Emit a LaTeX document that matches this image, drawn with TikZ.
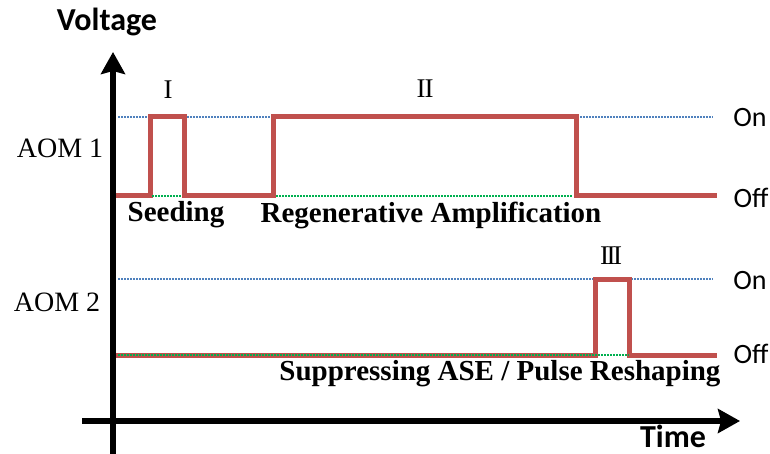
\documentclass[tikz,border=0pt]{standalone}
\usepackage{fontspec}
\setmainfont{Liberation Serif}
\newfontfamily\labelsans{Carlito}
\usetikzlibrary{arrows.meta}

\definecolor{aomred}{RGB}{192,80,77}
\definecolor{onblue}{RGB}{79,129,189}
\definecolor{offgreen}{RGB}{0,176,80}

\tikzset{
  axis/.style={line width=6pt, -{Stealth[length=22pt,width=24pt,inset=3pt]}},
  signal/.style={aomred, line width=5pt, line join=miter},
  onlevel/.style={onblue, line width=1.5pt, dash pattern=on 1.5pt off 1.5pt},
  offlevel/.style={offgreen, line width=1.5pt, dash pattern=on 1.5pt off 1.5pt},
  level/.style={font=\labelsans\fontsize{28}{30}\selectfont},
  channel/.style={font=\fontsize{28}{30}\selectfont},
  phase/.style={font=\bfseries\fontsize{29}{31}\selectfont},
  stage/.style={font=\fontsize{27}{29}\selectfont},
  axislabel/.style={font=\labelsans\bfseries\fontsize{32}{34}\selectfont}
}

\begin{document}
\begin{tikzpicture}[x=1pt,y=-1pt]
\useasboundingbox (0,0) rectangle (770,454);

% axes
\coordinate (origin) at (113,421);
\coordinate (vtop) at (113,52);
\coordinate (vbottom) at (113,454);
\coordinate (hleft) at (82,421);
\coordinate (hright) at (740,421);

% AOM 1
\draw[onlevel] (118,117) -- (713,117);
\draw[signal] (115,196) -- (150,196) -- (150,117) -- (184,117) -- (184,196)
  -- (273,196) -- (273,117) -- (576,117) -- (576,196) -- (717,196);
\draw[offlevel] (152,196) -- (182,196);
\draw[offlevel] (276,196) -- (573,196);

% AOM 2
\draw[onlevel] (118,279) -- (713,279);
\draw[signal] (115,355) -- (595,355) -- (595,279) -- (629,279) -- (629,355)
  -- (717,355);
\draw[offlevel] (118,355) -- (629,355);

\draw[axis] (vbottom) -- (vtop);
\draw[axis] (hleft) -- (hright);

% labels
\node[axislabel] (voltage) at (107,22) {Voltage};
\node[axislabel] (time) at (673,436) {Time};
\node[channel] (aom1) at (60,148) {AOM 1};
\node[channel] (aom2) at (57,302) {AOM 2};
\node[level] (on1) at (750,118) {On};
\node[level] (off1) at (751,198) {Off};
\node[level] (on2) at (750,281) {On};
\node[level] (off2) at (751,354) {Off};
\node[stage] (stageI) at (168,90) {I};
\node[stage] (stageII) at (425,89) {I\kern-1pt I};
\node[stage] (stageIII) at (611,256) {I\kern-2.5pt I\kern-2.5pt I};
\node[phase] (seeding) at (176,215) {Seeding};
\node[phase] (regen) at (431,215) {Regenerative Amplification};
\node[phase] (suppress) at (500,374) {Suppressing ASE / Pulse Reshaping};
\end{tikzpicture}
\end{document}
